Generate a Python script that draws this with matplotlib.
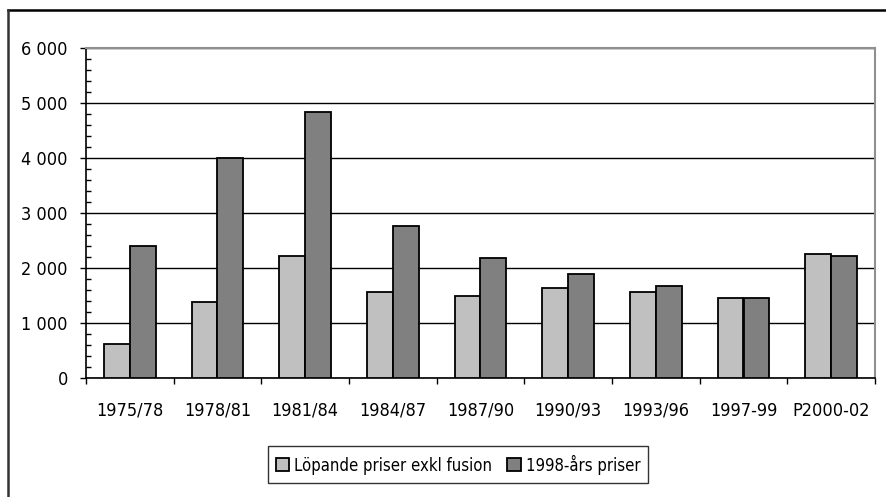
import matplotlib
matplotlib.use("Agg")
import matplotlib.pyplot as plt
from matplotlib.lines import Line2D
from matplotlib.patches import Patch
from matplotlib.ticker import FixedLocator, MultipleLocator, FuncFormatter
import numpy as np

plt.rcParams['font.family'] = ['DejaVu Sans']
plt.rcParams['font.stretch'] = 'condensed'

# Data
periods = ["1975/78", "1978/81", "1981/84", "1984/87", "1987/90",
           "1990/93", "1993/96", "1997-99", "P2000-02"]
lopande = [625, 1380, 2222, 1560, 1491, 1644, 1564, 1455, 2255]
fasta_1998 = [2407, 4000, 4833, 2755, 2182, 1891, 1673, 1455, 2218]
series_names = ["Löpande priser exkl fusion", "1998-års priser"]

light = "#C0C0C0"
dark = "#808080"
fs = 13

fig = plt.figure(figsize=(8.86, 4.97), dpi=100)
ax = fig.add_axes([86 / 886, 1 - 378 / 497, (875 - 86) / 886, (378 - 48) / 497])

x = np.arange(len(periods))
w = 0.296
ax.bar(x - w / 2, lopande, width=w, color=light, edgecolor="black", linewidth=1.3, zorder=3)
ax.bar(x + w / 2, fasta_1998, width=w, color=dark, edgecolor="black", linewidth=1.3, zorder=3)

ax.set_xlim(-0.5, len(periods) - 0.5)
ax.set_ylim(0, 6000)

# y axis: major ticks outward, minor ticks inward
ax.yaxis.set_major_locator(MultipleLocator(1000))
ax.yaxis.set_minor_locator(MultipleLocator(200))
ax.yaxis.set_major_formatter(FuncFormatter(lambda v, p: f"{int(v):,}".replace(",", " ")))
ax.tick_params(axis="y", which="major", direction="out", length=4.5, width=1, pad=8.5,
               labelsize=fs, color="black")
ax.tick_params(axis="y", which="minor", direction="in", length=3.5, width=1, color="black")

# x axis: labels centred on groups, tick marks between groups
ax.set_xticks(x)
ax.set_xticklabels(periods)
ax.xaxis.set_minor_locator(FixedLocator(np.arange(-0.5, len(periods), 1.0)))
ax.tick_params(axis="x", which="major", length=0, pad=17, labelsize=fs)
ax.tick_params(axis="x", which="minor", direction="out", length=4.5, width=1, color="black")

ax.grid(axis="y", which="major", color="black", linewidth=1.0, zorder=0)
ax.set_axisbelow(True)

for side in ("left", "bottom"):
    ax.spines[side].set_color("black")
    ax.spines[side].set_linewidth(1.2)
for side in ("top", "right"):
    ax.spines[side].set_color("#909090")
    ax.spines[side].set_linewidth(1.5)

handles = [Patch(facecolor=light, edgecolor="black", linewidth=1.3),
           Patch(facecolor=dark, edgecolor="black", linewidth=1.3)]
leg = fig.legend(handles, series_names, loc="center", bbox_to_anchor=(458 / 886, 1 - 464.5 / 497),
                 ncol=2, fontsize=12, frameon=True, fancybox=False, edgecolor="black",
                 handlelength=0.8, handleheight=0.8, handletextpad=0.3, columnspacing=0.9,
                 borderpad=0.5, borderaxespad=0)
leg.get_frame().set_linewidth(1.0)

# outer chart border (top and left)
fig.add_artist(Line2D([7.5 / 886, 1.0], [1 - 9.5 / 497, 1 - 9.5 / 497], color="black", linewidth=1.8))
fig.add_artist(Line2D([7.5 / 886, 7.5 / 886], [0, 1 - 9.5 / 497], color="#333333", linewidth=1.8))

fig.savefig("out.png", dpi=100)
